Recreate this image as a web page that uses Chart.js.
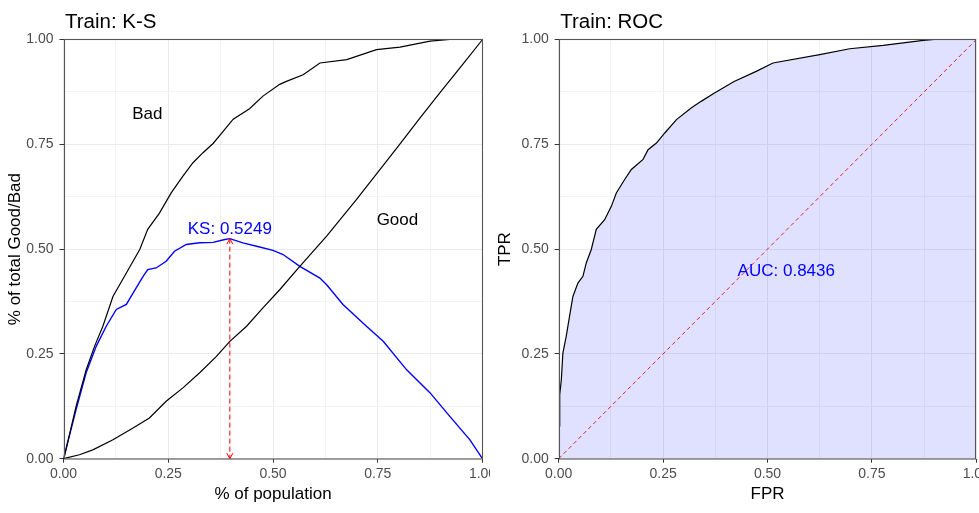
<!DOCTYPE html>
<html>
<head>
<meta charset="utf-8">
<script src="https://cdn.jsdelivr.net/npm/chart.js@4.4.1/dist/chart.umd.min.js"></script>
<style>
    html, body { margin: 0; padding: 0; background: #fff; }
    #wrap { position: relative; width: 979px; height: 513px; overflow: hidden; }
    .panel { position: absolute; top: 0; height: 513px; }
</style>
</head>
<body>
<div id="wrap">
    <div class="panel" style="left:0;width:490px"><canvas id="ksChart"></canvas></div>
    <div class="panel" style="left:490px;width:489px"><canvas id="rocChart"></canvas></div>
</div>
<script>
// shared axis ticks (major + minor grid positions)
const tickValues = [0, 0.125, 0.25, 0.375, 0.5, 0.625, 0.75, 0.875, 1];
const tickLabels = ['0.00', '', '0.25', '', '0.50', '', '0.75', '', '1.00'];

// K-S panel: cumulative Bad
const badX = [0, 0.0024, 0.03, 0.054, 0.074, 0.094, 0.118, 0.15, 0.182, 0.201, 0.229, 0.257, 0.285, 0.309, 0.333,
    0.357, 0.381, 0.405, 0.444, 0.476, 0.516, 0.532, 0.572, 0.612, 0.676, 0.747, 0.803, 0.875, 0.922, 1];
const badY = [0, 0.006, 0.125, 0.212, 0.268, 0.316, 0.387, 0.443, 0.499, 0.547, 0.586, 0.634, 0.674, 0.706, 0.730,
    0.752, 0.781, 0.810, 0.835, 0.865, 0.893, 0.900, 0.916, 0.944, 0.952, 0.976, 0.982, 0.996, 1.0, 1.0];

// cumulative Good
const goodX = [0, 0.038, 0.07, 0.118, 0.166, 0.205, 0.245, 0.285, 0.325, 0.365, 0.397, 0.437, 0.476, 0.516, 0.564,
    0.628, 0.699, 0.75, 0.8, 0.851, 0.9, 0.95, 1];
const goodY = [0, 0.0095, 0.021, 0.045, 0.073, 0.097, 0.137, 0.169, 0.205, 0.244, 0.280, 0.316, 0.360, 0.403, 0.459,
    0.531, 0.618, 0.683, 0.747, 0.813, 0.875, 0.937, 1];

// K-S distance curve
const ksX = [0, 0.03, 0.054, 0.078, 0.102, 0.126, 0.15, 0.166, 0.19, 0.201, 0.221, 0.245, 0.265, 0.293, 0.325, 0.357,
    0.385, 0.397, 0.428, 0.468, 0.5, 0.524, 0.564, 0.612, 0.628, 0.667, 0.723, 0.763, 0.819, 0.875, 0.922, 0.97, 1];
const ksY = [0, 0.117, 0.205, 0.268, 0.316, 0.356, 0.368, 0.395, 0.435, 0.451, 0.455, 0.471, 0.495, 0.511, 0.515, 0.516,
    0.523, 0.5249, 0.515, 0.505, 0.497, 0.487, 0.459, 0.431, 0.415, 0.368, 0.316, 0.280, 0.212, 0.157, 0.101, 0.045, 0];

const ksStat = 0.5249;
const ksAt = 0.397;

// ROC panel
const fpr = [0.0024, 0.0024, 0.0064, 0.010, 0.018, 0.026, 0.034, 0.046, 0.058, 0.066, 0.078, 0.090, 0.110, 0.126,
    0.138, 0.158, 0.174, 0.202, 0.214, 0.234, 0.254, 0.282, 0.318, 0.342, 0.372, 0.42, 0.473, 0.513, 0.625, 0.697,
    0.777, 0.873, 0.90, 1];
const tpr = [0.077, 0.153, 0.189, 0.252, 0.292, 0.340, 0.387, 0.419, 0.435, 0.467, 0.499, 0.547, 0.570, 0.602, 0.634,
    0.666, 0.690, 0.714, 0.737, 0.753, 0.777, 0.809, 0.837, 0.853, 0.872, 0.90, 0.924, 0.944, 0.964, 0.978, 0.986,
    0.998, 1.0, 1.0];
const diagX = [0, 1];
const diagY = [0, 1];
const auc = 0.8436;

const FONT = '"Liberation Sans", Arial, sans-serif';

const toPoints = (xs, ys) => xs.map((x, i) => ({ x: x, y: ys[i] }));

function makeAxis(position, title, size, titlePad) {
    const horizontal = position === 'bottom';
    return {
        type: 'linear',
        position: position,
        min: 0,
        max: 1,
        afterBuildTicks: scale => { scale.ticks = tickValues.map(v => ({ value: v })); },
        afterFit: scale => {
            if (horizontal) scale.height = size; else scale.width = size;
            scale.paddingLeft = 0; scale.paddingRight = 0;
            scale.paddingTop = 0; scale.paddingBottom = 0;
        },
        ticks: {
            autoSkip: false,
            maxRotation: 0,
            padding: horizontal ? 3 : 6,
            color: '#4d4d4d',
            font: { family: FONT, size: 14 },
            callback: (v, i) => tickLabels[i]
        },
        grid: {
            color: ctx => (ctx.index % 2 === 0 ? '#ebebeb' : '#f3f3f3'),
            lineWidth: 1,
            tickLength: 4,
            tickColor: ctx => (ctx.index % 2 === 0 ? '#333333' : 'rgba(0,0,0,0)')
        },
        border: { display: false },
        title: {
            display: true,
            text: title,
            color: '#000',
            font: { family: FONT, size: 17 },
            padding: horizontal ? { top: 0, bottom: titlePad } : { top: titlePad, bottom: 0 }
        }
    };
}

// titles, annotations, arrows and the panel frame
const decorPlugin = {
    id: 'decor',
    afterDatasetsDraw(chart, args, opts) {
        const ctx = chart.ctx;
        const area = chart.chartArea;
        const xs = chart.scales.x, ys = chart.scales.y;
        ctx.save();

        if (opts.arrow) {
            const px = xs.getPixelForValue(opts.arrow.x);
            const tips = [[ys.getPixelForValue(opts.arrow.from), -1], [ys.getPixelForValue(opts.arrow.to), 1]];
            ctx.strokeStyle = 'red';
            ctx.lineWidth = 1;
            tips.forEach(([py, dir]) => {
                ctx.beginPath();
                ctx.moveTo(px - 3, py - dir * 5.5);
                ctx.lineTo(px, py);
                ctx.lineTo(px + 3, py - dir * 5.5);
                ctx.stroke();
            });
        }

        ctx.textAlign = 'center';
        ctx.textBaseline = 'middle';
        (opts.labels || []).forEach(l => {
            ctx.fillStyle = l.color;
            ctx.font = '17px ' + FONT;
            ctx.fillText(l.text, xs.getPixelForValue(l.x), ys.getPixelForValue(l.y));
        });

        ctx.strokeStyle = '#555';
        ctx.lineWidth = 1.1;
        ctx.strokeRect(Math.round(area.left) + 0.5, Math.round(area.top) - 0.5,
            Math.round(area.right) - Math.round(area.left) - 1, Math.round(area.bottom) - Math.round(area.top) + 0.5);

        ctx.fillStyle = '#000';
        ctx.textAlign = 'left';
        ctx.textBaseline = 'alphabetic';
        ctx.font = '20.5px ' + FONT;
        ctx.fillText(opts.title, area.left + 1.5, 28.3);
        ctx.restore();
    }
};

function baseOptions(padRight, yWidth, yTitle, xTitle, decor) {
    return {
        responsive: true,
        maintainAspectRatio: false,
        animation: false,
        devicePixelRatio: 1,
        layout: { padding: { top: 39.5, right: padRight, left: 0, bottom: 0 } },
        plugins: { legend: { display: false }, tooltip: { enabled: false }, decor: decor },
        elements: { point: { radius: 0 }, line: { tension: 0 } },
        scales: {
            x: makeAxis('bottom', xTitle, 54.3, 8.3),
            y: makeAxis('left', yTitle, yWidth, 5.5)
        }
    };
}

try {
    new Chart(document.getElementById('ksChart'), {
        type: 'scatter',
        data: {
            datasets: [
                { data: toPoints(badX, badY), showLine: true, borderColor: '#000', borderWidth: 1.2 },
                { data: toPoints(goodX, goodY), showLine: true, borderColor: '#000', borderWidth: 1.2 },
                { data: toPoints(ksX, ksY), showLine: true, borderColor: '#0000ff', borderWidth: 1.4 },
                { data: toPoints([ksAt, ksAt], [ksStat, 0]), showLine: true, borderColor: 'red', borderWidth: 1, borderDash: [5, 3] }
            ]
        },
        options: baseOptions(7.5, 63.5, '% of total Good/Bad', '% of population', {
            title: 'Train: K-S',
            arrow: { x: ksAt, from: ksStat, to: 0 },
            labels: [
                { text: 'KS: ' + ksStat, x: ksAt, y: ksStat + 0.022, color: '#0000ff' },
                { text: 'Bad', x: 0.2, y: 0.821, color: '#000' },
                { text: 'Good', x: 0.797, y: 0.569, color: '#000' }
            ]
        }),
        plugins: [decorPlugin]
    });

    new Chart(document.getElementById('rocChart'), {
        type: 'scatter',
        data: {
            datasets: [
                { data: toPoints(fpr, tpr), showLine: true, borderColor: '#000', borderWidth: 1.2,
                  fill: 'origin', backgroundColor: 'rgba(0,0,255,0.12)' },
                { data: toPoints(diagX, diagY), showLine: true, borderColor: '#ff2020', borderWidth: 1, borderDash: [4, 3] }
            ]
        },
        options: baseOptions(2.7, 68.7, 'TPR', 'FPR', {
            title: 'Train: ROC',
            labels: [{ text: 'AUC: ' + auc, x: 0.545, y: 0.447, color: '#0000ff' }]
        }),
        plugins: [decorPlugin]
    });
} catch (error) {
    console.error(error.message);
}
</script>
</body>
</html>
